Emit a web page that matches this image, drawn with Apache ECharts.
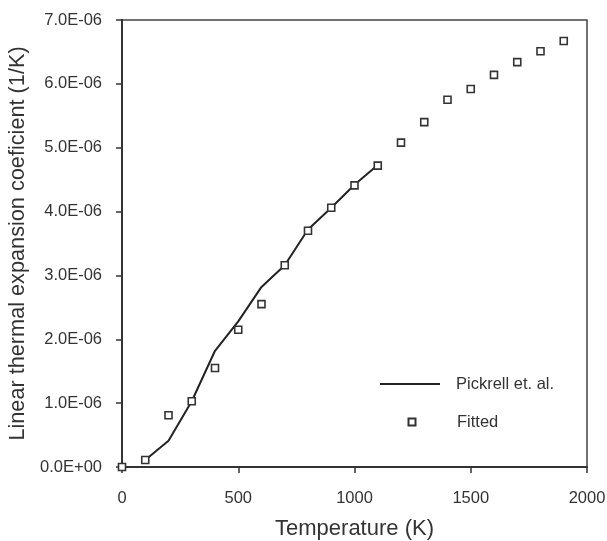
<!DOCTYPE html>
<html>
<head>
<meta charset="utf-8">
<script src="https://cdn.jsdelivr.net/npm/echarts@6/dist/echarts.min.js"></script>
<style>
  html, body { margin: 0; padding: 0; background: #fff; }
  #chart { width: 607px; height: 541px; }
</style>
</head>
<body>
<div id="chart"></div>
<script>
// Pickrell et. al. measured curve (temperature in K, coefficient in 1/K)
const pickrellTemps = [100, 200, 300, 400, 500, 600, 700, 800, 900, 1000, 1100];
const pickrellValues = [0.11e-6, 0.41e-6, 1.03e-6, 1.82e-6, 2.28e-6, 2.82e-6, 3.16e-6, 3.72e-6, 4.06e-6, 4.42e-6, 4.73e-6];

// Fitted model values
const fittedTemps = [0, 100, 200, 300, 400, 500, 600, 700, 800, 900, 1000, 1100, 1200, 1300, 1400, 1500, 1600, 1700, 1800, 1900];
const fittedValues = [0, 0.11e-6, 0.81e-6, 1.03e-6, 1.55e-6, 2.15e-6, 2.55e-6, 3.16e-6, 3.70e-6, 4.06e-6, 4.41e-6, 4.72e-6, 5.08e-6, 5.40e-6, 5.75e-6, 5.92e-6, 6.14e-6, 6.34e-6, 6.51e-6, 6.67e-6];

const seriesNames = ['Pickrell et. al.', 'Fitted'];

const FONT = '"Liberation Sans", Arial, sans-serif';
const INK = '#333';
const LINE_INK = '#222';

function sci(v) {
  // 7e-6 -> "7.0E-06", 0 -> "0.0E+00"
  const s = Number(v).toExponential(1);
  const m = s.match(/^(-?[\d.]+)e([+-])(\d+)$/);
  if (!m) return s;
  return m[1] + 'E' + m[2] + (m[3].length < 2 ? '0' + m[3] : m[3]);
}

const legendText = { fontFamily: FONT, fontSize: 16.5, color: INK, lineHeight: 18 };

const chart = echarts.init(document.getElementById('chart'), null, { renderer: 'canvas' });

chart.setOption({
  animation: false,
  backgroundColor: '#fff',
  textStyle: { fontFamily: FONT, color: INK },
  grid: {
    left: 122, top: 20, right: 20, bottom: 74,
    outerBoundsMode: 'none',
    containLabel: false,
    show: true, borderColor: '#444', borderWidth: 1.5, backgroundColor: 'transparent'
  },
  legend: [
    {
      // line entry: a long flat bar as the key
      left: 375, top: 370,
      icon: 'rect',
      itemWidth: 60, itemHeight: 2,
      data: [seriesNames[0]],
      itemStyle: { color: LINE_INK, borderWidth: 0 },
      textStyle: Object.assign({ padding: [0, 0, 0, 11] }, legendText)
    },
    {
      // marker entry: a small hollow square
      left: 402.5, top: 408,
      icon: 'rect',
      itemWidth: 7, itemHeight: 7,
      data: [seriesNames[1]],
      textStyle: Object.assign({ padding: [0, 0, 0, 36.5] }, legendText)
    }
  ],
  xAxis: {
    type: 'value',
    min: 0, max: 2000, interval: 500,
    name: 'Temperature (K)',
    nameLocation: 'middle', nameGap: 51,
    nameTextStyle: { fontFamily: FONT, fontSize: 22, color: INK },
    axisLine: { show: true, onZero: false, lineStyle: { color: '#333', width: 2 } },
    axisTick: { show: true, inside: false, length: 6, lineStyle: { color: '#333', width: 1.5 } },
    axisLabel: { fontFamily: FONT, fontSize: 16.5, color: INK, margin: 23, formatter: v => String(v) },
    splitLine: { show: false }
  },
  yAxis: {
    type: 'value',
    min: 0, max: 7e-6, interval: 1e-6,
    name: 'Linear thermal expansion coeficient (1/K)',
    nameLocation: 'middle', nameGap: 87,
    nameTextStyle: { fontFamily: FONT, fontSize: 21.7, color: INK },
    axisLine: { show: true, onZero: false, lineStyle: { color: '#333', width: 2 } },
    axisTick: { show: true, inside: false, length: 6, lineStyle: { color: '#333', width: 1.5 } },
    axisLabel: { fontFamily: FONT, fontSize: 16.5, color: INK, margin: 20, formatter: sci },
    splitLine: { show: false }
  },
  series: [
    {
      name: seriesNames[0],
      type: 'line',
      symbol: 'none',
      smooth: false,
      data: pickrellTemps.map((t, i) => [t, pickrellValues[i]]),
      lineStyle: { color: LINE_INK, width: 2 },
      itemStyle: { color: LINE_INK },
      z: 2
    },
    {
      name: seriesNames[1],
      type: 'scatter',
      symbol: 'rect',
      symbolSize: 7,
      data: fittedTemps.map((t, i) => [t, fittedValues[i]]),
      itemStyle: { color: '#fff', borderColor: '#333', borderWidth: 1.6, opacity: 1 },
      z: 3
    }
  ]
});
</script>
</body>
</html>
